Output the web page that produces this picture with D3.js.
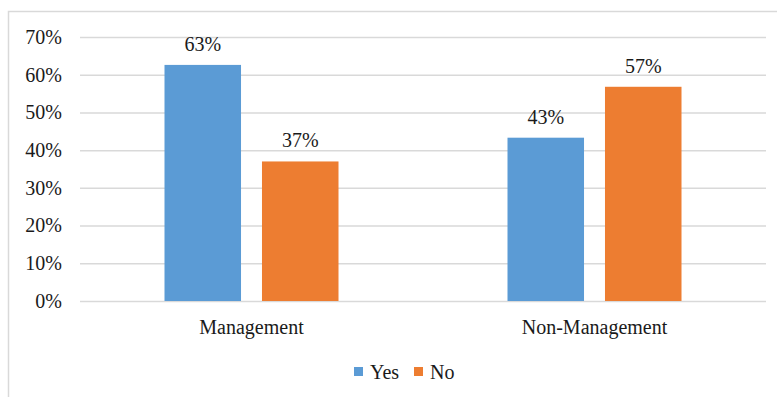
<!DOCTYPE html>
<html><head><meta charset="utf-8">
<script src="https://cdn.jsdelivr.net/npm/d3@7"></script>
<style>body{margin:0;background:#fff}svg{display:block}svg text{font-family:"Liberation Serif","Times New Roman",serif !important;fill:#1a1a1a}</style>
</head><body><svg id="c" width="777" height="397" font-family="Liberation Serif, Times New Roman, serif"></svg>
<script>
const categories = ["Management", "Non-Management"];
const seriesNames = ["Yes", "No"];
const yesValues = [0.626, 0.433];
const noValues = [0.370, 0.568];
const valueLabels = [["63%", "37%"], ["43%", "57%"]];
const yTicks = [0, 0.1, 0.2, 0.3, 0.4, 0.5, 0.6, 0.7];
const colors = ["#5B9BD5", "#ED7D31"];
const FONT = "'Liberation Serif', 'Times New Roman', serif";

const svg = d3.select("#c");
const W = 777, H = 397;
const m = {left: 80, right: 11, top: 37, bottom: 96};
const iw = W - m.left - m.right, ih = H - m.top - m.bottom;

svg.append("rect").attr("x", 8.5).attr("y", 11.5).attr("width", W + 10).attr("height", H + 10)
  .attr("fill", "none").attr("stroke", "#d9d9d9").attr("stroke-width", 1.5);

const g = svg.append("g").attr("transform", `translate(${m.left},${m.top})`);
const x = d3.scaleBand().domain(categories).range([0, iw]);
const x1 = d3.scaleBand().domain(seriesNames).range([0, 174]).paddingInner(0.215);
const y = d3.scaleLinear().domain([0, 0.7]).range([ih, 0]);

const yAxis = g.append("g").call(d3.axisLeft(y).tickValues(yTicks).tickFormat(d3.format(".0%")).tickSize(-iw).tickPadding(18));
yAxis.attr("font-family", FONT);
yAxis.select(".domain").remove();
yAxis.selectAll(".tick line").attr("stroke", "#d9d9d9").attr("stroke-width", 1.5);
yAxis.selectAll(".tick text").attr("font-size", 20).style("fill", "#1a1a1a");

const data = categories.map((c, i) => ({cat: c, vals: [yesValues[i], noValues[i]], labels: valueLabels[i]}));
const grp = g.selectAll(".grp").data(data).join("g")
  .attr("transform", d => `translate(${x(d.cat) + x.bandwidth()/2 - 87},0)`);
grp.selectAll("rect").data(d => d.vals.map((v, j) => ({v, s: seriesNames[j], j, label: d.labels[j]})))
  .join("rect")
  .attr("x", d => x1(d.s)).attr("width", x1.bandwidth())
  .attr("y", d => y(d.v)).attr("height", d => ih - y(d.v))
  .attr("fill", d => colors[d.j]);
grp.selectAll("text.lbl").data(d => d.vals.map((v, j) => ({v, s: seriesNames[j], label: d.labels[j]})))
  .join("text").attr("class", "lbl")
  .attr("x", d => x1(d.s) + x1.bandwidth()/2).attr("y", d => y(d.v) - 14)
  .attr("text-anchor", "middle").attr("font-size", 20).text(d => d.label);

const xAxis = g.append("g").attr("transform", `translate(0,${ih})`).call(d3.axisBottom(x).tickSize(0).tickPadding(0));
xAxis.attr("font-family", FONT);
xAxis.select(".domain").remove();
xAxis.selectAll(".tick text").attr("font-size", 20).attr("dy", null).attr("y", 33).style("fill", "#1a1a1a");

const leg = svg.append("g").attr("transform", "translate(354,367)");
const items = leg.selectAll("g").data(seriesNames).join("g")
  .attr("transform", (d, i) => `translate(${i * 60},0)`);
items.append("rect").attr("width", 9).attr("height", 9).attr("fill", (d, i) => colors[i]);
items.append("text").attr("x", 16).attr("y", 12).attr("font-size", 20).text(d => d);
</script></body></html>
